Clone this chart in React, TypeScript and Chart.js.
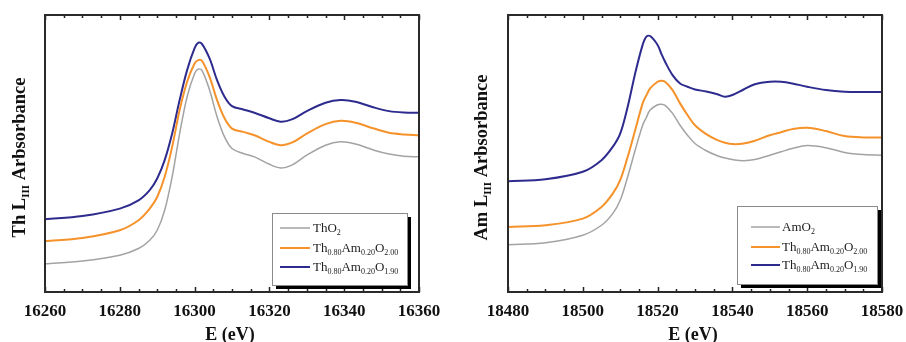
import React, { useEffect, useRef } from "react";
import { Chart, registerables } from "chart.js";

Chart.register(...registerables);

// ---------- Data: Th L_III edge ----------
const thEnergy = [16260, 16270, 16280, 16285, 16288, 16290, 16292, 16294, 16296, 16298, 16300, 16301, 16302, 16304, 16306, 16308, 16310, 16313, 16316, 16320, 16323, 16326, 16330, 16335, 16339, 16343, 16348, 16352, 16356, 16360];
const thThO2 = [10.2, 11.2, 13.3, 15.7, 18.7, 22.3, 29.5, 41.6, 57.2, 70.5, 78.9, 80.5, 79.9, 72.9, 63.3, 56.0, 51.8, 50.0, 48.8, 46.1, 44.8, 45.8, 49.4, 53.0, 54.2, 53.4, 51.2, 49.8, 49.0, 48.8];
const thMixed200 = [18.4, 19.5, 22.3, 25.9, 30.1, 34.3, 41.6, 52.4, 65.7, 75.9, 82.5, 83.7, 83.4, 77.7, 69.3, 62.7, 59.0, 57.8, 56.6, 54.2, 53.0, 53.9, 57.2, 60.6, 61.8, 61.1, 59.0, 57.5, 56.9, 56.6];
const thMixed190 = [26.3, 27.4, 30.1, 33.1, 36.8, 41.0, 47.6, 57.2, 69.3, 80.1, 88.0, 90.0, 89.5, 84.3, 76.5, 70.5, 67.1, 65.9, 64.7, 62.7, 61.5, 62.3, 65.3, 68.3, 69.3, 68.7, 66.6, 65.3, 64.8, 64.7];
const thTicks = [16260, 16280, 16300, 16320, 16340, 16360];

// ---------- Data: Am L_III edge ----------
const amEnergy = [18480, 18490, 18500, 18505, 18508, 18510, 18512, 18514, 18516, 18517, 18518, 18520, 18521, 18522, 18524, 18526, 18528, 18530, 18533, 18536, 18538, 18540, 18543, 18546, 18550, 18553, 18556, 18560, 18565, 18570, 18575, 18580];
const amAmO2 = [17.1, 17.8, 20.5, 24.1, 28.3, 33.1, 41.6, 51.2, 60.2, 63.0, 65.7, 67.6, 67.8, 67.4, 64.5, 60.2, 56.6, 53.6, 51.0, 49.2, 48.4, 47.8, 47.4, 47.8, 49.4, 50.6, 51.8, 52.9, 52.1, 50.4, 49.6, 49.4];
const amMixed200 = [23.5, 24.1, 26.5, 30.7, 35.5, 40.4, 48.8, 58.4, 68.1, 71.0, 73.5, 75.9, 76.3, 75.9, 72.9, 68.1, 63.9, 60.2, 57.0, 54.8, 53.9, 53.4, 53.6, 54.6, 56.6, 57.7, 58.8, 59.3, 58.1, 56.3, 55.8, 55.8];
const amMixed190 = [40.0, 40.7, 43.4, 47.6, 52.4, 57.2, 66.9, 78.9, 89.2, 92.2, 92.4, 89.2, 86.0, 83.1, 78.3, 75.3, 74.1, 73.1, 72.4, 71.4, 70.5, 71.1, 73.1, 75.0, 75.9, 75.9, 75.3, 74.1, 72.9, 72.3, 72.2, 72.2];
const amTicks = [18480, 18500, 18520, 18540, 18560, 18580];

const seriesColors = ["#a3a3a3", "#f5922a", "#2e2b8e"];
const seriesWidths = [1.5, 2, 2];

type Seg = { t: string; sub?: boolean };
const mixed200Label: Seg[] = [{ t: "Th" }, { t: "0.80", sub: true }, { t: "Am" }, { t: "0.20", sub: true }, { t: "O" }, { t: "2.00", sub: true }];
const mixed190Label: Seg[] = [{ t: "Th" }, { t: "0.80", sub: true }, { t: "Am" }, { t: "0.20", sub: true }, { t: "O" }, { t: "1.90", sub: true }];
const thLegend: Seg[][] = [[{ t: "ThO" }, { t: "2", sub: true }], mixed200Label, mixed190Label];
const amLegend: Seg[][] = [[{ t: "AmO" }, { t: "2", sub: true }], mixed200Label, mixed190Label];
const thYTitle: Seg[] = [{ t: "Th L" }, { t: "III", sub: true }, { t: " Arbsorbance" }];
const amYTitle: Seg[] = [{ t: "Am L" }, { t: "III", sub: true }, { t: " Arbsorbance" }];

const FONT = "'Liberation Serif', 'Times New Roman', serif";

type PanelCfg = {
  energy: number[];
  series: number[][];
  ticks: number[];
  legend: Seg[][];
  yTitle: Seg[];
  padLeft: number;
  padRight: number;
  yTitleX: number;
  legendBox: { x: number; y: number; w: number; h: number; rows: number[]; lineX0: number; lineX1: number; textX: number };
};

function drawRich(ctx: CanvasRenderingContext2D, segs: Seg[], x: number, y: number, mainFont: string, subFont: string, subDy: number, align: "left" | "center") {
  let total = 0;
  for (const s of segs) {
    ctx.font = s.sub ? subFont : mainFont;
    total += ctx.measureText(s.t).width;
  }
  let cx = align === "center" ? x - total / 2 : x;
  ctx.textAlign = "left";
  ctx.textBaseline = "alphabetic";
  for (const s of segs) {
    ctx.font = s.sub ? subFont : mainFont;
    ctx.fillText(s.t, cx, s.sub ? y + subDy : y);
    cx += ctx.measureText(s.t).width;
  }
}

function makePlugin(cfg: PanelCfg) {
  return {
    id: "decor",
    afterDatasetsDraw(chart: any) {
      const ctx: CanvasRenderingContext2D = chart.ctx;
      const area = chart.chartArea;
      const xs = chart.scales.x;
      ctx.save();
      // inward ticks
      ctx.strokeStyle = "#222";
      ctx.lineWidth = 1.5;
      const min = xs.min, max = xs.max;
      for (let v = min; v <= max + 1e-6; v += 5) {
        const px = Math.round(xs.getPixelForValue(v)) + 0.5;
        const major = Math.abs((v - min) % 20) < 1e-6;
        const len = major ? 5 : 3;
        ctx.beginPath();
        ctx.moveTo(px, area.bottom);
        ctx.lineTo(px, area.bottom - len);
        ctx.moveTo(px, area.top);
        ctx.lineTo(px, area.top + len);
        ctx.stroke();
      }
      // frame
      ctx.strokeStyle = "#2a2a2a";
      ctx.lineWidth = 2;
      ctx.strokeRect(area.left, area.top, area.right - area.left, area.bottom - area.top);

      // legend
      const lb = cfg.legendBox;
      ctx.fillStyle = "#000";
      ctx.fillRect(lb.x + 4, lb.y + 4, lb.w, lb.h);
      ctx.fillStyle = "#fff";
      ctx.fillRect(lb.x, lb.y, lb.w, lb.h);
      ctx.strokeStyle = "#8a8a8a";
      ctx.lineWidth = 1;
      ctx.strokeRect(lb.x + 0.5, lb.y + 0.5, lb.w, lb.h);
      cfg.legend.forEach((segs, i) => {
        const ry = lb.rows[i];
        ctx.strokeStyle = seriesColors[i];
        ctx.lineWidth = seriesWidths[i];
        ctx.beginPath();
        ctx.moveTo(lb.lineX0, ry);
        ctx.lineTo(lb.lineX1, ry);
        ctx.stroke();
        ctx.fillStyle = "#222";
        drawRich(ctx, segs, lb.textX, ry + 4, `13px ${FONT}`, `8px ${FONT}`, 3, "left");
      });

      // y title (rotated)
      ctx.save();
      ctx.translate(cfg.yTitleX, (area.top + area.bottom) / 2 + 4);
      ctx.rotate(-Math.PI / 2);
      ctx.fillStyle = "#111";
      drawRich(ctx, cfg.yTitle, 0, 6.5, `bold 18.5px ${FONT}`, `bold 11px ${FONT}`, 4, "center");
      ctx.restore();

      // x title
      ctx.fillStyle = "#111";
      drawRich(ctx, [{ t: "E (eV)" }], (area.left + area.right) / 2 - 2, 340, `bold 18px ${FONT}`, `bold 10px ${FONT}`, 4, "center");
      ctx.restore();
    },
  };
}

function Panel({ cfg }: { cfg: PanelCfg }) {
  const ref = useRef<HTMLCanvasElement | null>(null);
  useEffect(() => {
    if (!ref.current) return;
    const datasets = cfg.series.map((vals, i) => ({
      data: cfg.energy.map((e, j) => ({ x: e, y: vals[j] })),
      borderColor: seriesColors[i],
      borderWidth: seriesWidths[i],
      pointRadius: 0,
      tension: 0.35,
      fill: false,
    }));
    const chart = new Chart(ref.current, {
      type: "line",
      data: { datasets },
      options: {
        animation: false,
        responsive: false,
        devicePixelRatio: 1,
        layout: { padding: { left: cfg.padLeft, right: cfg.padRight, top: 15, bottom: 0 } },
        plugins: { legend: { display: false }, tooltip: { enabled: false } },
        scales: {
          x: {
            type: "linear",
            min: cfg.ticks[0],
            max: cfg.ticks[cfg.ticks.length - 1],
            afterBuildTicks: (scale: any) => {
              scale.ticks = cfg.ticks.map((v) => ({ value: v }));
            },
            afterFit: (scale: any) => {
              scale.height = 50;
              scale.paddingLeft = 0;
              scale.paddingRight = 0;
            },
            grid: { display: false, drawTicks: false },
            border: { display: false },
            ticks: {
              padding: 9,
              color: "#111",
              maxRotation: 0,
              autoSkip: false,
              font: { family: FONT, size: 17, weight: "bold" },
              callback: (v: any) => String(v),
            },
          },
          y: { display: false, min: 0, max: 100 },
        },
      },
      plugins: [makePlugin(cfg)],
    });
    return () => chart.destroy();
  }, [cfg]);
  return <canvas ref={ref} width={453} height={342} style={{ display: "block", width: 453, height: 342 }} />;
}

const thCfg: PanelCfg = {
  energy: thEnergy,
  series: [thThO2, thMixed200, thMixed190],
  ticks: thTicks,
  legend: thLegend,
  yTitle: thYTitle,
  padLeft: 45,
  padRight: 34,
  yTitleX: 18,
  legendBox: { x: 272, y: 213, w: 135, h: 72, rows: [228, 248, 267], lineX0: 280, lineX1: 310, textX: 313 },
};

const amCfg: PanelCfg = {
  energy: amEnergy,
  series: [amAmO2, amMixed200, amMixed190],
  ticks: amTicks,
  legend: amLegend,
  yTitle: amYTitle,
  padLeft: 55,
  padRight: 24,
  yTitleX: 27,
  legendBox: { x: 284, y: 206, w: 140, h: 78, rows: [227, 247, 265], lineX0: 298, lineX1: 327, textX: 329 },
};

export default function App() {
  return (
    <div style={{ position: "absolute", left: 0, top: 0, width: 906, height: 342, background: "#fff", display: "flex", overflow: "hidden" }}>
      <Panel cfg={thCfg} />
      <Panel cfg={amCfg} />
    </div>
  );
}
